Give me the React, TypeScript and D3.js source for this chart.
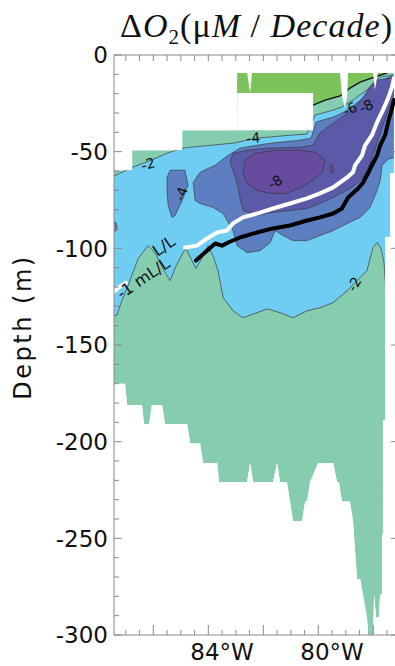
import React from 'react';
import * as d3 from 'd3';

// ---------- axes ----------
const LON_EXTENT = [-87.93, -77.675];
const DEPTH_EXTENT = [0, -300];
const depthLabels = [0, -50, -100, -150, -200, -250, -300];
const lonMajorTicks = [-86.5, -84.5, -82.5, -80.5, -78.5];
const lonLabels = [-84, -80];
const lonLabelText = ['84°W', '80°W'];

// ---------- data region (lon, depth) ----------
const dataOutline = [
  [-87.93, -59.6], [-87.27, -59.6], [-87.27, -49.3], [-85.45, -49.3], [-85.45, -38.9], [-83.45, -38.9],
  [-83.45, -9.3], [-77.75, -9.3], [-77.75, -61], [-77.89, -61], [-77.89, -94], [-78.07, -94],
  [-78.07, -189], [-78.15, -189], [-78.15, -248], [-78.18, -248], [-78.18, -279], [-78.25, -279],
  [-78.3, -291], [-78.4, -291], [-78.47, -279], [-78.51, -300], [-78.69, -300], [-78.73, -291],
  [-78.98, -271], [-79.09, -271], [-79.24, -241], [-79.35, -231], [-79.64, -231], [-79.75, -221],
  [-79.82, -221], [-79.96, -211], [-80.51, -211], [-80.8, -221], [-80.91, -231], [-80.98, -231],
  [-81.09, -241], [-81.42, -241], [-81.64, -221], [-81.89, -221], [-82.0, -211], [-82.15, -221],
  [-82.87, -221], [-82.98, -211], [-83.09, -221], [-84.11, -221], [-84.18, -211], [-84.69, -211],
  [-84.8, -201], [-85.16, -201], [-85.27, -191], [-86.07, -191], [-86.18, -181], [-86.55, -181],
  [-86.65, -191], [-86.84, -191], [-86.91, -181], [-87.45, -181], [-87.53, -170], [-87.93, -170],
];
const gapUnderSurface = [[-83.45, -19.7], [-80.69, -19.7], [-80.69, -38.9], [-83.45, -38.9]];
const gapSpikeA = [[-79.71, -9], [-79.42, -9], [-79.45, -21], [-79.53, -27.5], [-79.64, -21]];
const gapSpikeB = [[-78.51, -9], [-78.33, -9], [-78.44, -18.1]];
const gapNotch = [[-83.09, -9], [-82.91, -9], [-82.98, -19.7]];

// ---------- filled contour regions ----------
const regionPositive = [
  [-83.6, -5], [-78.0, -5], [-78.0, -9.3], [-78.36, -10.9], [-78.98, -14], [-79.35, -17.1],
  [-79.71, -21.2], [-80.25, -23.3], [-80.69, -25.9], [-83.6, -25.9],
];
const regionBelow2 = [
  [-88.1, -63.8], [-87.27, -58.1], [-86.87, -56], [-86.33, -52.9], [-86.0, -50.8], [-85.45, -48.2],
  [-84.8, -47.2], [-83.6, -45.6], [-82.73, -43], [-81.53, -41.5], [-80.91, -40.9], [-80.62, -31.1],
  [-79.96, -28.5], [-79.64, -26.9], [-79.24, -23.3], [-78.73, -18.1], [-78.51, -14.5], [-78.25, -11.4],
  [-77.5, -9.8], [-77.5, -120.4],
  [-78.04, -122], [-78.11, -107.4], [-78.22, -100.1], [-78.36, -97], [-78.51, -99.6], [-78.62, -105.3],
  [-78.73, -111.5], [-79.09, -116.7], [-79.45, -121.9], [-79.96, -128.1], [-80.44, -130.7], [-80.91, -132.3],
  [-81.42, -135.9], [-81.89, -133.3], [-82.36, -131.3], [-82.73, -133.3], [-83.24, -135.9], [-83.6, -132.3],
  [-83.96, -125.5], [-84.15, -111.5], [-84.33, -103.8], [-84.51, -98.6], [-84.69, -103.8], [-84.95, -110.5],
  [-85.13, -105.3], [-85.31, -100.1], [-85.42, -102.2], [-85.67, -108.9], [-85.89, -116.7], [-86.15, -110.5],
  [-86.44, -102.2], [-86.69, -98.6], [-87.05, -105.3], [-87.42, -119.3], [-87.67, -128.1], [-87.82, -134.4],
  [-87.93, -134.9], [-88.1, -134.9],
];
const regionBelow4 = [
  [-84.98, -75.2], [-85.05, -65.9], [-84.8, -60.7], [-84.25, -57], [-83.78, -51.9], [-83.35, -48.2],
  [-82.25, -45.6], [-81.16, -44.1], [-80.76, -43], [-80.58, -34.7], [-79.96, -32.1], [-79.64, -30.1],
  [-79.24, -26.4], [-78.73, -20.7], [-78.44, -16.6], [-78.15, -12.9], [-77.82, -10.9], [-77.5, -10.9],
  [-77.5, -51.9], [-77.96, -53.9], [-78.18, -57],
  [-78.25, -64.8], [-78.36, -70], [-78.62, -78.8], [-78.98, -84], [-79.45, -87.1], [-79.96, -90.8],
  [-80.44, -93.4], [-80.91, -96], [-81.42, -96], [-81.78, -93.4], [-82.07, -90.8], [-82.25, -97],
  [-82.62, -101.2], [-83.09, -102.2], [-83.45, -98.6], [-83.6, -90.8], [-83.96, -82], [-84.33, -78.8],
  [-84.8, -76.8],
];
const regionBelow4Lobe = [
  [-85.89, -59.6], [-85.35, -59.6], [-85.24, -67.4], [-85.45, -75.2], [-85.71, -83], [-85.82, -84],
  [-85.96, -77.8], [-86.0, -70], [-86.0, -63.3],
];
const regionBelow4Edge = [[-88.1, -87], [-87.86, -86.5], [-87.82, -89], [-87.86, -91], [-88.1, -91]];
const regionBelow6 = [
  [-83.71, -55.5], [-83.6, -50.8], [-83.09, -49.3], [-82.36, -48.2], [-81.16, -47.7], [-80.69, -46.7],
  [-80.44, -40.4], [-79.96, -35.3], [-79.64, -32.1], [-79.24, -28.5], [-78.87, -21.8], [-78.62, -16.6],
  [-78.36, -12.9], [-77.82, -11.9], [-77.5, -11.9], [-77.5, -20.7],
  [-77.96, -28.5], [-78.15, -36.3], [-78.33, -44.1], [-78.51, -51.9], [-78.69, -58.6],
  [-78.87, -63.3], [-79.09, -66.4], [-79.45, -70], [-79.96, -73.7], [-80.44, -76.8], [-80.91, -79.4],
  [-81.53, -80.4], [-82.15, -81.4], [-82.73, -83], [-83.24, -80.4], [-83.35, -73.7], [-83.45, -66.4],
  [-83.6, -59.6],
];
const regionBelow8 = [
  [-83.16, -54.5], [-82.8, -50.8], [-82.07, -49.3], [-81.16, -49.3], [-80.62, -50.3], [-80.25, -54.5],
  [-80.36, -60.7], [-80.69, -64.8], [-81.05, -67.9], [-81.64, -71.6], [-82.25, -71.6], [-82.73, -70],
  [-83.09, -66.4], [-83.24, -60.7],
];
const regionBelow8Small = [[-80.07, -57], [-79.98, -57.3], [-79.95, -60], [-80.0, -61.3], [-80.07, -60]];

// ---------- 1 mL/L isolines ----------
const isoWhiteA = [[-87.95, -122.5], [-87.71, -119.8], [-87.49, -117.8]];
const isoWhiteB = [
  [-85.35, -99.6], [-84.91, -98.6], [-84.55, -94.9], [-84.18, -91.8], [-83.82, -90.8], [-83.6, -87.1],
  [-83.24, -84], [-82.73, -82], [-82.15, -79.4], [-81.53, -76.8], [-80.91, -74.2], [-80.44, -71.6],
  [-79.96, -68.5], [-79.45, -63.3], [-79.24, -60.7], [-79.16, -57], [-78.91, -51.9], [-78.8, -46.7],
  [-78.55, -41.5], [-78.36, -34.7], [-78.15, -28.5], [-77.96, -22.3], [-77.82, -16.6], [-77.75, -11.9],
];
const isoBlack = [
  [-84.95, -106.3], [-84.55, -101.2], [-84.25, -97.5], [-84.0, -98.6], [-83.78, -97], [-83.35, -94.4],
  [-82.73, -91.8], [-82.15, -89.7], [-81.53, -88.2], [-80.91, -85.6], [-80.44, -84], [-79.96, -82],
  [-79.64, -79.4], [-79.42, -73.7], [-79.05, -69], [-78.87, -65.9], [-78.69, -61.2], [-78.55, -57],
  [-78.36, -51.9], [-78.25, -46.7], [-78.07, -41.5], [-77.96, -34.7], [-77.82, -27.5], [-77.75, -23.3],
];

// ---------- contour labels: [lon, depth, rotation, text] ----------
const contourLabels: [number, number, number, string][] = [
  [-86.69, -56.4, -15, '-2'],
  [-82.87, -42.9, -5, '-4'],
  [-85.49, -71.9, -70, '-4'],
  [-82.07, -65.7, -30, '-8'],
  [-79.35, -27.9, -25, '-6'],
  [-78.76, -26.4, -25, '-8'],
  [-79.2, -118.5, -60, '-2'],
];
const isoLabels: [number, number, number, string][] = [
  [-87.66, -126.5, -34, '-1 mL/L'],
  [-86.36, -104.5, -34, 'L/L'],
];

const COLORS = {
  positive: '#7dc35b',
  zero: '#86cdb0',
  below2: '#6fcdf2',
  below4: '#5d7fc2',
  below6: '#5b5aa9',
  below8: '#664b9e',
};

export default function App() {
  const x = d3.scaleLinear().domain(LON_EXTENT).range([114, 396]);
  const y = d3.scaleLinear().domain(DEPTH_EXTENT).range([55, 635]);
  const line = d3.line<number[]>().x((d) => x(d[0])).y((d) => y(d[1]));
  const poly = (p: number[][]) => (line(p) || '') + 'Z';
  const lonMinor = x.ticks(20);
  const depthMinor = y.ticks(30);
  const axisColor = '#8a8a8a';
  const contourStroke = '#3a3a3a';
  const sans = 'DejaVu Sans';

  return (
    <svg width={395} height={666} style={{ position: 'absolute', left: 0, top: 0, background: '#fff' }}
      xmlns="http://www.w3.org/2000/svg">
      <defs>
        <clipPath id="dataClip">
          <path d={poly(dataOutline)} />
        </clipPath>
      </defs>
      <g clipPath="url(#dataClip)">
        <path d={poly(dataOutline)} fill={COLORS.zero} />
        <path d={poly(regionBelow2)} fill={COLORS.below2} stroke={contourStroke} strokeWidth={0.7} />
        <path d={poly(regionBelow4)} fill={COLORS.below4} stroke={contourStroke} strokeWidth={0.7} />
        <path d={poly(regionBelow4Lobe)} fill={COLORS.below4} stroke={contourStroke} strokeWidth={0.7} />
        <path d={poly(regionBelow4Edge)} fill={COLORS.below4} stroke={contourStroke} strokeWidth={0.7} />
        <path d={poly(regionBelow6)} fill={COLORS.below6} stroke={contourStroke} strokeWidth={0.7} />
        <path d={poly(regionBelow8)} fill={COLORS.below8} stroke={contourStroke} strokeWidth={0.7} />
        <path d={poly(regionBelow8Small)} fill={COLORS.below8} stroke={contourStroke} strokeWidth={0.7} />
        <path d={poly(regionPositive)} fill={COLORS.positive} stroke="#111" strokeWidth={1.4} />
      </g>
      {[gapUnderSurface, gapSpikeA, gapSpikeB, gapNotch].map((g, i) => (
        <path key={i} d={poly(g)} fill="#fff" />
      ))}
      {[isoWhiteA, isoWhiteB].map((l, i) => (
        <path key={i} d={line(l) || ''} fill="none" stroke="#fff" strokeWidth={4} strokeLinejoin="round" strokeLinecap="round" />
      ))}
      <path d={line(isoBlack) || ''} fill="none" stroke="#000" strokeWidth={4} strokeLinejoin="round" strokeLinecap="round" />
      {contourLabels.map(([lo, de, r, t], i) => (
        <text key={i} transform={`translate(${x(lo)},${y(de)}) rotate(${r})`} textAnchor="middle"
          dominantBaseline="central" fontFamily={sans} fontSize={14} fill="#111">{t}</text>
      ))}
      {isoLabels.map(([lo, de, r, t], i) => (
        <text key={i} transform={`translate(${x(lo)},${y(de)}) rotate(${r})`} textAnchor="start"
          fontFamily={sans} fontSize={16} fill="#111">{t}</text>
      ))}
      {/* frame */}
      <rect x={114} y={55} width={282} height={580} fill="none" stroke={axisColor} strokeWidth={1} />
      {lonMinor.map((v) => {
        const major = lonMajorTicks.includes(v);
        return (
          <g key={'lx' + v}>
            <line x1={x(v)} x2={x(v)} y1={635} y2={635 - (major ? 10 : 5)} stroke={axisColor} />
            <line x1={x(v)} x2={x(v)} y1={55} y2={61} stroke={axisColor} />
          </g>
        );
      })}
      {depthMinor.map((v) => {
        const major = depthLabels.includes(v);
        return (
          <g key={'dy' + v}>
            <line x1={114} x2={114 + (major ? 8 : 5)} y1={y(v)} y2={y(v)} stroke={axisColor} />
            {major && <line x1={396} x2={391} y1={y(v)} y2={y(v)} stroke={axisColor} />}
          </g>
        );
      })}
      {depthLabels.map((v) => (
        <text key={'dl' + v} x={108} y={y(v)} dy="0.36em" textAnchor="end" fontFamily={sans} fontSize={23} fill="#111">
          {String(v)}
        </text>
      ))}
      {lonLabels.map((v, i) => (
        <text key={'ll' + v} x={x(v)} y={660} textAnchor="middle" fontFamily={sans} fontSize={23} fill="#111">
          {lonLabelText[i]}
        </text>
      ))}
      <text transform="translate(31,327) rotate(-90)" textAnchor="middle" fontFamily={sans} fontSize={24}
        letterSpacing={2.5} fill="#111">
        Depth (m)
      </text>
      <text x={392} y={37} textAnchor="end" fontFamily="Liberation Serif" fontSize={34} fill="#111"
        textLength={272} lengthAdjust="spacing">
        {'Δ'}
        <tspan fontStyle="italic">O</tspan>
        <tspan fontSize={21} dy={7}>2</tspan>
        <tspan dy={-7}>{'(μ'}</tspan>
        <tspan fontStyle="italic">M</tspan>
        <tspan>{' / '}</tspan>
        <tspan fontStyle="italic">Decade</tspan>
        <tspan>{')'}</tspan>
      </text>
    </svg>
  );
}
